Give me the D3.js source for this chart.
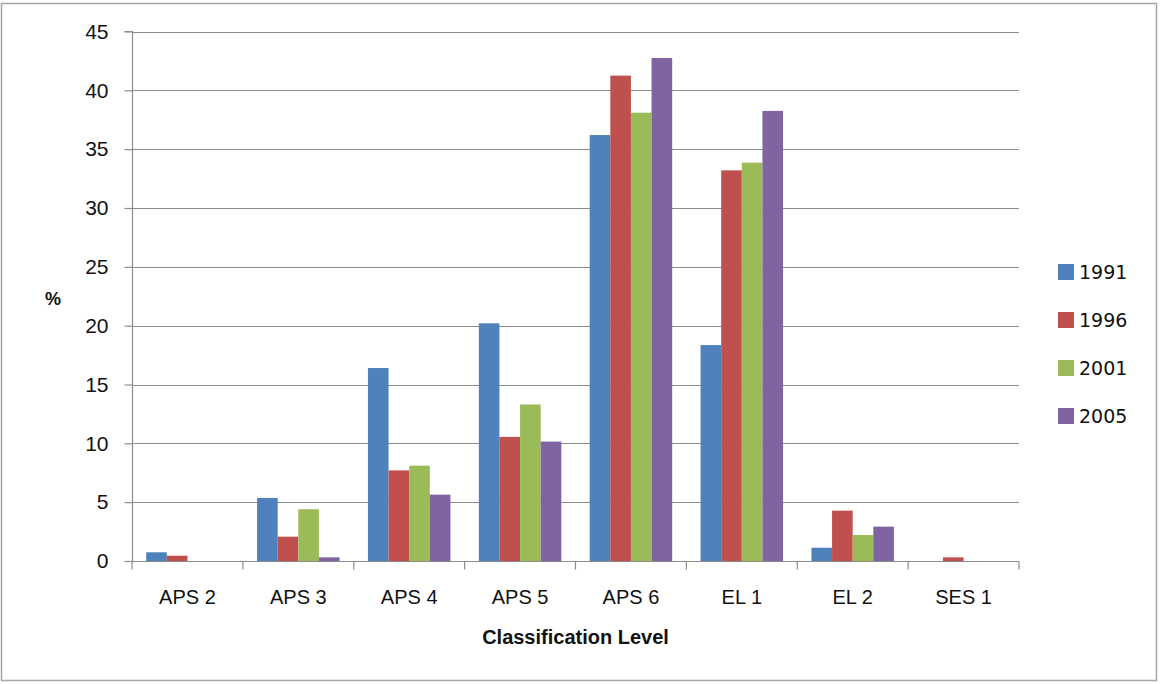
<!DOCTYPE html>
<html>
<head>
<meta charset="utf-8">
<script src="https://cdn.jsdelivr.net/npm/d3@7"></script>
<style>
  html, body { margin: 0; padding: 0; background: #fff; }
  svg { display: block; }
</style>
</head>
<body>
<svg id="chart" width="1160" height="684"></svg>
<script>
// Share of staff at each classification level, by census year (%)
const categories = ["APS 2", "APS 3", "APS 4", "APS 5", "APS 6", "EL 1", "EL 2", "SES 1"];
const years = ["1991", "1996", "2001", "2005"];
const values1991 = [0.74, 5.36, 16.4, 20.2, 36.2, 18.35, 1.13, 0];
const values1996 = [0.45, 2.07, 7.7, 10.55, 41.25, 33.2, 4.28, 0.31];
const values2001 = [0, 4.4, 8.1, 13.3, 38.1, 33.85, 2.21, 0];
const values2005 = [0, 0.31, 5.64, 10.15, 42.75, 38.25, 2.92, 0];
const yTicks = [0, 5, 10, 15, 20, 25, 30, 35, 40, 45];
const colors = ["#4F81BD", "#C0504D", "#9BBB59", "#8064A2"];

const seriesValues = [values1991, values1996, values2001, values2005];

const svg = d3.select("#chart");

// outer chart frame
svg.append("rect")
  .attr("x", 1.5).attr("y", 3.5)
  .attr("width", 1155).attr("height", 677)
  .attr("fill", "#fff")
  .attr("stroke", "#a6a6a6")
  .attr("stroke-width", 1.5);

const plot = { left: 132, right: 1019, top: 31.5, bottom: 561 };

const x0 = d3.scaleBand()
  .domain(categories)
  .range([plot.left, plot.right])
  .paddingInner(0).paddingOuter(0);

const x1 = d3.scaleBand()
  .domain(years)
  .range([x0.bandwidth() * 0.128, x0.bandwidth() * 0.872])
  .padding(0);

const y = d3.scaleLinear()
  .domain([0, 45])
  .range([plot.bottom, plot.top]);

const labelFont = "'Liberation Sans Narrow', 'Liberation Sans', Arial, sans-serif";

// horizontal gridlines
svg.append("g")
  .selectAll("line")
  .data(yTicks.filter(d => d > 0))
  .join("line")
  .attr("x1", plot.left).attr("x2", plot.right)
  .attr("y1", d => Math.round(y(d)) + 0.5)
  .attr("y2", d => Math.round(y(d)) + 0.5)
  .attr("stroke", "#8c8c8c")
  .attr("stroke-width", 1.2);

// bars
const groups = svg.append("g")
  .selectAll("g")
  .data(categories)
  .join("g")
  .attr("transform", d => `translate(${x0(d)},0)`);

groups.selectAll("rect")
  .data((c, i) => years.map((yr, s) => ({ yr, s, v: seriesValues[s][i] })))
  .join("rect")
  .filter(d => d.v > 0)
  .attr("x", d => x1(d.yr))
  .attr("width", x1.bandwidth())
  .attr("y", d => y(d.v))
  .attr("height", d => y(0) - y(d.v))
  .attr("fill", d => colors[d.s]);

// y axis
const yAxis = d3.axisLeft(y)
  .tickValues(yTicks)
  .tickSize(8)
  .tickPadding(16)
  .tickFormat(d3.format("d"));

const gy = svg.append("g")
  .attr("transform", `translate(${plot.left + 0.5},0)`)
  .call(yAxis);
gy.select(".domain").attr("stroke", "#8c8c8c").attr("stroke-width", 1.2).attr("d", `M-8,${y(45)}H0V${y(0)}`);
gy.selectAll(".tick line").attr("stroke", "#8c8c8c").attr("stroke-width", 1.2);
gy.selectAll(".tick text")
  .attr("fill", "#111")
  .style("font-family", "'Liberation Sans', Arial, sans-serif")
  .style("font-size", "21px");

// x axis with boundary tick marks between categories
const gx = svg.append("g")
  .attr("transform", `translate(0,${plot.bottom + 0.5})`);
gx.append("line")
  .attr("x1", plot.left).attr("x2", plot.right)
  .attr("stroke", "#8c8c8c").attr("stroke-width", 1.2);
gx.selectAll("line.boundary")
  .data(categories.map(c => x0(c)).concat([plot.right]))
  .join("line")
  .attr("class", "boundary")
  .attr("x1", d => d).attr("x2", d => d)
  .attr("y1", 0).attr("y2", 8)
  .attr("stroke", "#8c8c8c").attr("stroke-width", 1.2);
gx.selectAll("text")
  .data(categories)
  .join("text")
  .attr("x", d => x0(d) + x0.bandwidth() / 2)
  .attr("y", 42)
  .attr("text-anchor", "middle")
  .attr("fill", "#111")
  .style("font-family", labelFont)
  .style("font-size", "20px")
  .text(d => d);

// axis titles
svg.append("text")
  .attr("x", (plot.left + plot.right) / 2)
  .attr("y", 644)
  .attr("text-anchor", "middle")
  .attr("fill", "#111")
  .style("font-family", labelFont)
  .style("font-weight", "bold")
  .style("font-size", "20px")
  .text("Classification Level");

svg.append("text")
  .attr("x", 53)
  .attr("y", 305)
  .attr("text-anchor", "middle")
  .attr("fill", "#111")
  .style("font-family", "'Liberation Sans', Arial, sans-serif")
  .style("font-weight", "bold")
  .style("font-size", "18px")
  .text("%");

// legend
const legend = svg.append("g")
  .selectAll("g")
  .data(years)
  .join("g")
  .attr("transform", (d, i) => `translate(1058,${272 + i * 48})`);
legend.append("rect")
  .attr("x", 0).attr("y", -8)
  .attr("width", 16).attr("height", 16)
  .attr("fill", (d, i) => colors[i]);
legend.append("text")
  .attr("x", 21).attr("y", 7)
  .attr("fill", "#111")
  .style("font-family", "'DejaVu Sans', sans-serif")
  .style("font-size", "19px")
  .text(d => d);
</script>
</body>
</html>
